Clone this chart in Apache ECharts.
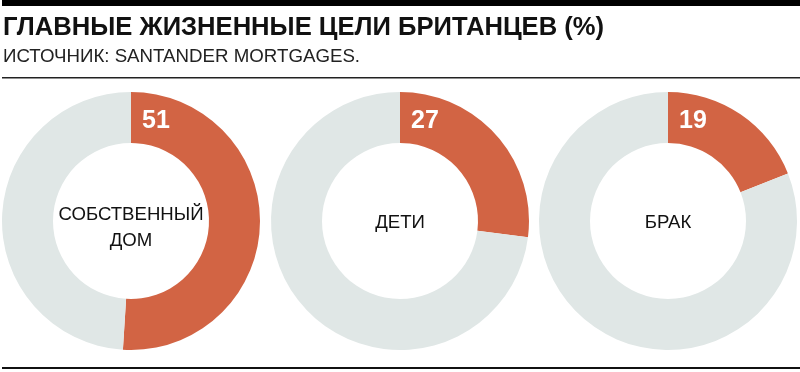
<!DOCTYPE html>
<html><head><meta charset="utf-8">
<script src="https://cdn.jsdelivr.net/npm/echarts@6/dist/echarts.min.js"></script>
<style>html,body{margin:0;padding:0;background:#fff}#c{width:800px;height:372px}</style>
</head><body><div id="c"></div>
<script>
const titleText = 'ГЛАВНЫЕ ЖИЗНЕННЫЕ ЦЕЛИ БРИТАНЦЕВ (%)';
const subtitleText = 'ИСТОЧНИК: SANTANDER MORTGAGES.';
const categories = ['СОБСТВЕННЫЙ\nДОМ', 'ДЕТИ', 'БРАК'];
const values = [51, 27, 19];

const ORANGE = '#D26444', GRAY = '#E0E7E6';
const centersX = [131, 400, 668];
const centerY = 221;
const chart = echarts.init(document.getElementById('c'), null, {renderer: 'canvas'});
const FONT = '"Liberation Sans", Arial, sans-serif';

const series = values.map((v, i) => ({
  type: 'pie',
  center: [centersX[i], centerY],
  radius: [78, 129],
  startAngle: 90,
  clockwise: true,
  silent: true,
  z: 2,
  label: {show: false},
  labelLine: {show: false},
  itemStyle: {borderWidth: 0},
  data: [
    {value: v, itemStyle: {color: ORANGE}},
    {value: 100 - v, itemStyle: {color: GRAY}}
  ]
}));

const graphics = [
  {type: 'rect', shape: {x: 2, y: 0, width: 798, height: 6}, style: {fill: '#000'}},
  {type: 'rect', shape: {x: 2, y: 77, width: 798, height: 1.5}, style: {fill: '#222'}},
  {type: 'rect', shape: {x: 2, y: 367, width: 798, height: 2}, style: {fill: '#111'}},
  {type: 'text', left: 3, top: 15, style: {text: titleText, font: 'bold 25.6px ' + FONT, fill: '#111'}},
  {type: 'text', left: 3, top: 47, style: {text: subtitleText, font: '18.7px ' + FONT, fill: '#222'}}
];
values.forEach((v, i) => {
  graphics.push({type: 'text', z: 100, x: centersX[i] + 11, y: 121,
    style: {text: String(v), font: 'bold 25px ' + FONT, fill: '#fff', align: 'left', verticalAlign: 'middle'}});
  const multi = categories[i].indexOf('\n') >= 0;
  graphics.push({type: 'text', z: 100, x: centersX[i], y: multi ? 228 : 223,
    style: {text: categories[i], font: '18.6px ' + FONT, fill: '#111', align: 'center', verticalAlign: 'middle', lineHeight: 26}});
});

chart.setOption({
  animation: false,
  backgroundColor: '#fff',
  series: series,
  graphic: graphics
});
</script></body></html>
